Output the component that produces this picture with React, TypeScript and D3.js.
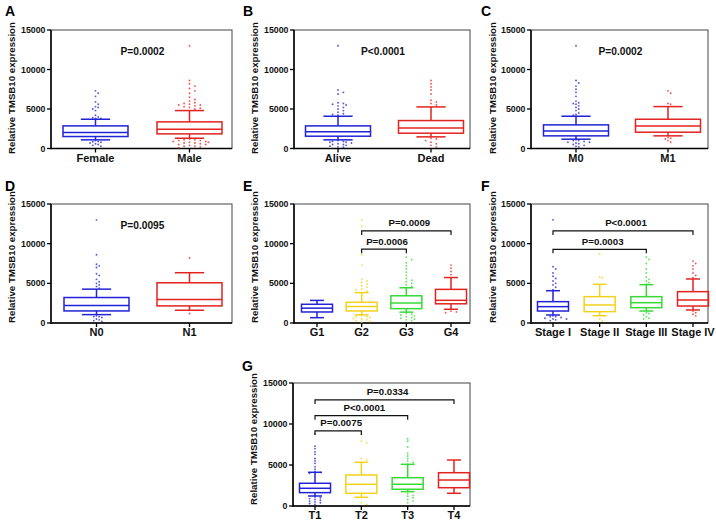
import React from "react";
import * as d3 from "d3";

// ---------------- DATA ----------------
// box = [lower whisker, Q1, median, Q3, upper whisker]
const yTicks = [0, 5000, 10000, 15000];

const catsA = ["Female", "Male"];
const boxA = [[1095, 1516, 2020, 2863, 3705], [1300, 1850, 2440, 3370, 4800]];
const outA = [
  [7300, 7000, 6600, 5900, 5600, 5300, 5200, 5000, 4800, 4200, 4000, 3900, 3800, 3800, 1000, 900, 850, 800, 700, 600, 500, 400, 300],
  [13000, 8600, 8200, 7900, 7600, 7300, 7000, 6500, 6200, 6000, 5800, 5700, 5600, 5500, 5500, 5400, 5300, 5200, 5100, 5000,
    1200, 1100, 1100, 1000, 1000, 900, 900, 800, 800, 700, 700, 600, 500, 500, 400, 300, 300, 200, 100],
];
const pA = "P=0.0002";

const catsB = ["Alive", "Dead"];
const boxB = [[1095, 1558, 2105, 2863, 4084], [1474, 1937, 2610, 3536, 5263]];
const outB = [
  [13000, 7400, 7100, 6900, 5800, 5700, 5600, 5500, 5400, 5200, 5000, 4800, 4600, 4400, 4300, 4200,
    1000, 900, 900, 800, 800, 700, 600, 500, 500, 400, 300, 200, 150],
  [8600, 8200, 7800, 7400, 6900, 6100, 5900, 5700, 5500, 1300, 1200, 1000, 800, 600, 400, 200],
];
const pB = "P<0.0001";

const catsC = ["M0", "M1"];
const boxC = [[1179, 1600, 2231, 2990, 4084], [1600, 2063, 2863, 3705, 5305]];
const outC = [
  [13000, 8600, 8300, 7900, 7500, 7100, 6600, 6000, 5800, 5700, 5600, 5400, 5200, 5000, 4800, 4500, 4300, 4200,
    1100, 1000, 1000, 900, 800, 800, 700, 600, 500, 400, 300, 200],
  [7300, 7000, 5700, 5600, 1400, 1300, 1200, 1000, 800],
];
const pC = "P=0.0002";

const catsD = ["N0", "N1"];
const boxD = [[1056, 1521, 2197, 3211, 4267], [1605, 2155, 2958, 5070, 6338]];
const outD = [
  [13000, 8600, 7400, 7200, 7000, 6200, 6000, 5500, 5200, 5000, 4800, 4600, 4400, 900, 800, 800, 700, 500, 400, 300, 200],
  [8200, 1200],
];
const pD = "P=0.0095";

const catsE = ["G1", "G2", "G3", "G4"];
const boxE = [
  [670, 1390, 1870, 2360, 2850],
  [1030, 1515, 2080, 2610, 3830],
  [1370, 1810, 2520, 3430, 4440],
  [1730, 2420, 2860, 4240, 5730],
];
const outE = [
  [],
  [13000, 12200, 8600, 7300, 5500, 5300, 5100, 4900, 4700, 4500, 4300, 4200, 4000, 900, 800, 800, 700, 600, 500, 400, 300, 200, 100],
  [8300, 8000, 7600, 7200, 6800, 6400, 6000, 5600, 5400, 5200, 5000, 4800, 4600, 1200, 1100, 1000, 900, 800, 700, 600, 500, 400, 300],
  [7300, 6900, 6500, 6100, 1500, 1400, 1300],
];
const bracketsE = [
  { from: 1, to: 3, level: 11600, label: "P=0.0009" },
  { from: 1, to: 2, level: 9300, label: "P=0.0006" },
];

const catsF = ["Stage I", "Stage II", "Stage III", "Stage IV"];
const boxF = [
  [1010, 1510, 2060, 2690, 4070],
  [920, 1430, 2270, 3320, 4880],
  [1510, 1930, 2560, 3320, 4830],
  [1640, 2140, 2900, 3950, 5550],
];
const outF = [
  [13000, 7100, 6800, 6300, 5900, 5600, 5300, 5000, 4800, 4500, 4200, 900, 800, 800, 700, 600, 500, 500, 400, 300],
  [8700, 5800, 5700, 500, 250],
  [8300, 8000, 7500, 6800, 6300, 5800, 5500, 5300, 5100, 4900, 1300, 1200, 1000, 800, 600, 500],
  [7800, 7500, 7200, 6800, 6300, 6000, 5700, 1500, 1300, 1100, 900],
];
const bracketsF = [
  { from: 0, to: 3, level: 11600, label: "P<0.0001" },
  { from: 0, to: 2, level: 9290, label: "P=0.0003" },
];

const catsG = ["T1", "T2", "T3", "T4"];
const boxG = [
  [1220, 1630, 2160, 2770, 4110],
  [1060, 1550, 2650, 3780, 5330],
  [1750, 2040, 2650, 3450, 5080],
  [1550, 2230, 3170, 4060, 5610],
];
const outG = [
  [8800, 7300, 7000, 6600, 6300, 5800, 5500, 5200, 4800, 4500, 4200, 4100, 4000, 1100, 1000, 900, 800, 700, 600, 500, 400, 300, 200],
  [8700, 7900, 7700, 5800, 5600, 400, 200],
  [8200, 7900, 7200, 6400, 6100, 5800, 5500, 5300, 5100, 1500, 1300, 1200, 1000, 800, 600, 400],
  [],
];
const bracketsG = [
  { from: 0, to: 3, level: 12930, label: "P=0.0334" },
  { from: 0, to: 2, level: 11010, label: "P<0.0001" },
  { from: 0, to: 1, level: 9150, label: "P=0.0075" },
];

// ---------------- STYLE ----------------
const BLUE = "#2222d8";
const RED = "#e3231f";
const YELLOW = "#f2d21b";
const GREEN = "#36d936";
const FONT = "'Liberation Sans', Arial, Helvetica, sans-serif";

type Bracket = { from: number; to: number; level: number; label: string };

function swarm(vals: number[], y: (v: number) => number, cx: number, gap: number) {
  const placed: { x: number; y: number }[] = [];
  const sorted = [...vals].sort((a, b) => b - a);
  for (const v of sorted) {
    const py = y(v);
    for (let k = 0; k < 40; k++) {
      const off = k === 0 ? 0 : (k % 2 === 1 ? 1 : -1) * Math.ceil(k / 2) * gap;
      const px = cx + off;
      const clash = placed.some((p) => Math.abs(p.x - px) < gap && Math.abs(p.y - py) < gap * 0.9);
      if (!clash) {
        placed.push({ x: px, y: py });
        break;
      }
    }
  }
  return placed;
}

type PanelProps = {
  letter: string;
  left: number;
  right: number;
  top: number;
  bottom: number;
  xFirst: number;
  xLast: number;
  boxW: number;
  letterX: number;
  letterY: number;
  labelX: number;
  labelCY: number;
  cats: string[];
  boxes: number[][];
  outs: number[][];
  colors: string[];
  pText?: string;
  brackets?: Bracket[];
};

function Panel(p: PanelProps) {
  const y = d3.scaleLinear().domain([0, 15000]).range([p.bottom, p.top]);
  const x = d3.scalePoint<string>().domain(p.cats).range([p.xFirst, p.xLast]);
  const capW = p.boxW * 0.45;
  return (
    <g>
      <text x={p.letterX} y={p.letterY} fontFamily={FONT} fontWeight="bold" fontSize={14} fill="#000">
        {p.letter}
      </text>
      <text
        transform={`translate(${p.labelX},${p.labelCY}) rotate(-90)`}
        textAnchor="middle"
        dy="0.35em"
        fontFamily={FONT}
        fontWeight="bold"
        fontSize={9.7}
        fill="#111"
      >
        Relative TMSB10 expression
      </text>
      {/* frame */}
      <rect x={p.left} y={p.top} width={p.right - p.left} height={p.bottom - p.top} fill="none" stroke="#444" strokeWidth={1} />
      <line x1={p.left} x2={p.left} y1={p.top} y2={p.bottom + 0.7} stroke="#000" strokeWidth={1.5} />
      <line x1={p.left} x2={p.right} y1={p.bottom} y2={p.bottom} stroke="#000" strokeWidth={1.5} />
      {yTicks.map((t) => (
        <g key={t}>
          <line x1={p.left - 4} x2={p.left} y1={y(t)} y2={y(t)} stroke="#000" strokeWidth={1.3} />
          <text x={p.left - 5.5} y={y(t)} dy="0.35em" textAnchor="end" fontFamily={FONT} fontWeight="bold" fontSize={8.8} fill="#111">
            {t}
          </text>
        </g>
      ))}
      {p.cats.map((c) => (
        <g key={c}>
          <line x1={x(c)} x2={x(c)} y1={p.bottom} y2={p.bottom + 4} stroke="#000" strokeWidth={1.3} />
          <text x={x(c)} y={p.bottom + 13} textAnchor="middle" fontFamily={FONT} fontWeight="bold" fontSize={11} fill="#111">
            {c}
          </text>
        </g>
      ))}
      {p.cats.map((c, i) => {
        const cx = x(c) as number;
        const [lo, q1, med, q3, hi] = p.boxes[i];
        const col = p.colors[i];
        const dots = swarm(p.outs[i], y, cx, 2.7);
        return (
          <g key={"b" + c}>
            {dots.map((d, j) => (
              <circle key={j} cx={d.x} cy={d.y} r={0.95} fill={col} opacity={0.75} />
            ))}
            <line x1={cx} x2={cx} y1={y(hi)} y2={y(q3)} stroke={col} strokeWidth={1.5} />
            <line x1={cx} x2={cx} y1={y(q1)} y2={y(lo)} stroke={col} strokeWidth={1.5} />
            <line x1={cx - capW / 2} x2={cx + capW / 2} y1={y(hi)} y2={y(hi)} stroke={col} strokeWidth={1.5} />
            <line x1={cx - capW / 2} x2={cx + capW / 2} y1={y(lo)} y2={y(lo)} stroke={col} strokeWidth={1.5} />
            <rect x={cx - p.boxW / 2} y={y(q3)} width={p.boxW} height={y(q1) - y(q3)} fill="none" stroke={col} strokeWidth={1.5} />
            <line x1={cx - p.boxW / 2} x2={cx + p.boxW / 2} y1={y(med)} y2={y(med)} stroke={col} strokeWidth={1.5} />
          </g>
        );
      })}
      {p.pText && (
        <text x={(p.left + p.right) / 2 + 1} y={p.top + 24.5} textAnchor="middle" fontFamily={FONT} fontWeight="bold" fontSize={10.2} fill="#111">
          {p.pText}
        </text>
      )}
      {(p.brackets || []).map((b, i) => {
        const x1 = x(p.cats[b.from]) as number;
        const x2 = x(p.cats[b.to]) as number;
        const yy = y(b.level);
        return (
          <g key={"br" + i}>
            <path d={`M${x1},${yy + 4}V${yy}H${x2}V${yy + 4}`} fill="none" stroke="#111" strokeWidth={1.2} />
            <text x={(x1 + x2) / 2 + 3} y={yy - 4.5} textAnchor="middle" fontFamily={FONT} fontWeight="bold" fontSize={9.7} fill="#111">
              {b.label}
            </text>
          </g>
        );
      })}
    </g>
  );
}

export default function App() {
  const two = [BLUE, RED];
  const four = [BLUE, YELLOW, GREEN, RED];
  return (
    <>
      <style>{`body{margin:0;background:#fff}`}</style>
      <svg width={716} height={522} style={{ display: "block", background: "#fff" }}>
        <Panel letter="A" left={51} right={232} top={30} bottom={148.5} xFirst={95.5} xLast={189.5} boxW={65}
          letterX={5} letterY={16} labelX={12} labelCY={88} cats={catsA} boxes={boxA} outs={outA} colors={two} pText={pA} />
        <Panel letter="B" left={294} right={470} top={30} bottom={148.5} xFirst={338} xLast={431} boxW={65}
          letterX={243} letterY={16} labelX={255} labelCY={88} cats={catsB} boxes={boxB} outs={outB} colors={two} pText={pB} />
        <Panel letter="C" left={531} right={708} top={30} bottom={148.5} xFirst={576} xLast={668} boxW={65}
          letterX={481} letterY={16} labelX={493} labelCY={88} cats={catsC} boxes={boxC} outs={outC} colors={two} pText={pC} />
        <Panel letter="D" left={51} right={232} top={204} bottom={323} xFirst={96.5} xLast={189.5} boxW={65}
          letterX={5} letterY={190.5} labelX={12} labelCY={257} cats={catsD} boxes={boxD} outs={outD} colors={two} pText={pD} />
        <Panel letter="E" left={294} right={470} top={204} bottom={323} xFirst={317} xLast={451} boxW={31}
          letterX={243} letterY={190.5} labelX={255} labelCY={257} cats={catsE} boxes={boxE} outs={outE} colors={four} brackets={bracketsE} />
        <Panel letter="F" left={531} right={708} top={204} bottom={323} xFirst={553} xLast={693} boxW={31}
          letterX={481} letterY={190.5} labelX={493} labelCY={257} cats={catsF} boxes={boxF} outs={outF} colors={four} brackets={bracketsF} />
        <Panel letter="G" left={293} right={470} top={383} bottom={506} xFirst={315} xLast={454} boxW={31}
          letterX={242} letterY={370.5} labelX={254} labelCY={439} cats={catsG} boxes={boxG} outs={outG} colors={four} brackets={bracketsG} />
      </svg>
    </>
  );
}
